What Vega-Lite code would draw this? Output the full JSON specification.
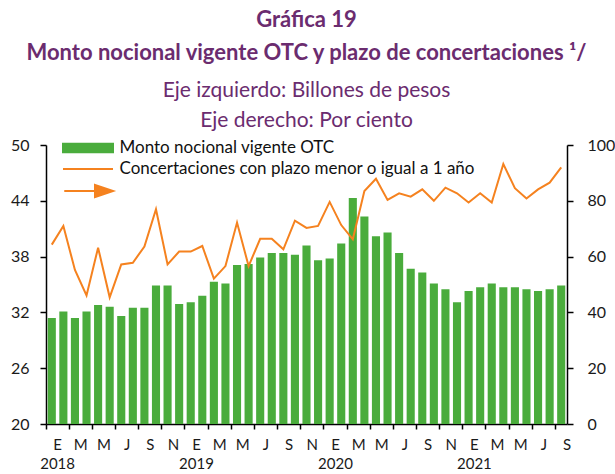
{
  "$schema": "https://vega.github.io/schema/vega-lite/v6.json",
  "width": 521,
  "height": 279,
  "autosize": {"type": "none"},
  "padding": {"left": 46, "top": 145, "right": 48, "bottom": 50},
  "background": "white",
  "config": {"view": {"stroke": null}},
  "title": {
    "text": ["Gráfica 19", "Monto nocional vigente OTC y plazo de concertaciones ¹/"],
    "subtitle": ["Eje izquierdo: Billones de pesos", "Eje derecho: Por ciento"],
    "font": "Lato", "fontSize": 22, "fontWeight": "bold", "color": "#6b2c6f", "lineHeight": 33,
    "subtitleFont": "Lato", "subtitleFontSize": 21, "subtitleColor": "#6b2c6f", "subtitleLineHeight": 30,
    "subtitlePadding": 15, "offset": 5, "anchor": "middle", "frame": "group"
  },
  "data": {"values": [
    {"m": "2018-01", "monto": 31.4, "conc": 64.3},
    {"m": "2018-02", "monto": 32.1, "conc": 71.0},
    {"m": "2018-03", "monto": 31.4, "conc": 55.2},
    {"m": "2018-04", "monto": 32.1, "conc": 46.1},
    {"m": "2018-05", "monto": 32.8, "conc": 63.2},
    {"m": "2018-06", "monto": 32.6, "conc": 45.4},
    {"m": "2018-07", "monto": 31.6, "conc": 57.2},
    {"m": "2018-08", "monto": 32.5, "conc": 57.8},
    {"m": "2018-09", "monto": 32.5, "conc": 63.6},
    {"m": "2018-10", "monto": 34.9, "conc": 77.0},
    {"m": "2018-11", "monto": 34.9, "conc": 57.2},
    {"m": "2018-12", "monto": 32.9, "conc": 61.8},
    {"m": "2019-01", "monto": 33.1, "conc": 61.8},
    {"m": "2019-02", "monto": 33.8, "conc": 63.8},
    {"m": "2019-03", "monto": 35.3, "conc": 52.1},
    {"m": "2019-04", "monto": 35.1, "conc": 56.6},
    {"m": "2019-05", "monto": 37.1, "conc": 72.2},
    {"m": "2019-06", "monto": 37.2, "conc": 56.6},
    {"m": "2019-07", "monto": 37.9, "conc": 66.4},
    {"m": "2019-08", "monto": 38.4, "conc": 66.4},
    {"m": "2019-09", "monto": 38.4, "conc": 62.6},
    {"m": "2019-10", "monto": 38.2, "conc": 72.9},
    {"m": "2019-11", "monto": 39.2, "conc": 70.3},
    {"m": "2019-12", "monto": 37.6, "conc": 71.0},
    {"m": "2020-01", "monto": 37.8, "conc": 79.6},
    {"m": "2020-02", "monto": 39.4, "conc": 71.3},
    {"m": "2020-03", "monto": 44.3, "conc": 66.2},
    {"m": "2020-04", "monto": 42.3, "conc": 83.5},
    {"m": "2020-05", "monto": 40.2, "conc": 87.9},
    {"m": "2020-06", "monto": 40.6, "conc": 80.3},
    {"m": "2020-07", "monto": 38.4, "conc": 82.7},
    {"m": "2020-08", "monto": 36.7, "conc": 81.5},
    {"m": "2020-09", "monto": 36.3, "conc": 84.1},
    {"m": "2020-10", "monto": 35.1, "conc": 80.0},
    {"m": "2020-11", "monto": 34.5, "conc": 84.7},
    {"m": "2020-12", "monto": 33.1, "conc": 82.7},
    {"m": "2021-01", "monto": 34.3, "conc": 79.4},
    {"m": "2021-02", "monto": 34.7, "conc": 82.7},
    {"m": "2021-03", "monto": 35.1, "conc": 79.4},
    {"m": "2021-04", "monto": 34.7, "conc": 93.2},
    {"m": "2021-05", "monto": 34.7, "conc": 84.5},
    {"m": "2021-06", "monto": 34.5, "conc": 80.8},
    {"m": "2021-07", "monto": 34.3, "conc": 84.1},
    {"m": "2021-08", "monto": 34.5, "conc": 86.5},
    {"m": "2021-09", "monto": 34.9, "conc": 92.0}
  ]},
  "encoding": {
    "x": {
      "field": "m", "type": "ordinal",
      "scale": {"paddingInner": 0.3, "paddingOuter": 0.15},
      "axis": {
        "title": null,
        "values": ["2018-01","2018-03","2018-05","2018-07","2018-09","2018-11","2019-01","2019-03","2019-05","2019-07","2019-09","2019-11","2020-01","2020-03","2020-05","2020-07","2020-09","2020-11","2021-01","2021-03","2021-05","2021-07","2021-09"],
        "bandPosition": -0.214,
        "labelOffset": 5.8,
        "labelExpr": "parseInt(substring(datum.value,5,7)) == 1 ? ['E', substring(datum.value,0,4)] : ['E','F','M','A','M','J','J','A','S','O','N','D'][parseInt(substring(datum.value,5,7)) - 1]",
        "labelAngle": 0, "labelOverlap": false, "labelBound": false,
        "labelFont": "Lato", "labelFontSize": 15, "labelColor": "#1a1a1a", "labelLineHeight": 19,
        "labelPadding": 8, "tickSize": 5, "tickColor": "black", "domainColor": "black", "domainWidth": 1.5, "tickWidth": 1.5
      }
    }
  },
  "layer": [
    {
      "mark": {"type": "bar"},
      "encoding": {
        "y": {
          "field": "monto", "type": "quantitative",
          "scale": {"domain": [20, 50], "nice": false, "zero": false},
          "axis": {
            "title": null, "values": [20, 26, 32, 38, 44, 50], "grid": false, "orient": "left",
            "labelFont": "Lato", "labelFontSize": 16, "labelColor": "#1a1a1a", "labelPadding": 11,
            "tickSize": 6, "tickColor": "black", "domainColor": "black", "domainWidth": 1.5, "tickWidth": 1.5
          }
        },
        "y2": {"datum": 20},
        "color": {
          "datum": "Monto nocional vigente OTC",
          "scale": {
            "domain": ["Monto nocional vigente OTC", "Concertaciones con plazo menor o igual a 1 año", " "],
            "range": ["#4aac3c", "#f5821f", "#f5821f"]
          },
          "legend": {
            "title": null, "orient": "none", "legendX": 16, "legendY": -5.5,
            "padding": 0, "rowPadding": 3, "labelOffset": 23, "symbolOffset": 17.5, "labelLimit": 0,
            "labelFont": "Lato", "labelFontSize": 17, "labelColor": "#111111",
            "symbolSize": 100,
            "encode": {
              "symbols": {
                "update": {
                  "shape": {"signal": "datum.index === 0 ? 'M-5,-0.85H5V0.85H-5Z' : datum.index === 1 ? 'M-5,0H5' : 'M-4.75,0H1.75M1.4,-1.2L5,0L1.4,1.2Z'"},
                  "size": {"value": 100},
                  "fill": {"signal": "datum.index === 0 ? '#4aac3c' : datum.index === 2 ? '#f5821f' : 'transparent'"},
                  "stroke": {"signal": "datum.index === 0 ? 'transparent' : '#f5821f'"},
                  "strokeWidth": {"value": 2},
                  "opacity": {"value": 1}
                }
              }
            }
          }
        }
      }
    },
    {
      "mark": {"type": "line", "strokeWidth": 2},
      "encoding": {
        "y": {
          "field": "conc", "type": "quantitative",
          "scale": {"domain": [0, 100], "nice": false},
          "axis": {
            "title": null, "values": [0, 20, 40, 60, 80, 100], "grid": false, "orient": "right",
            "labelFont": "Lato", "labelFontSize": 16, "labelColor": "#1a1a1a", "labelPadding": 14,
            "tickSize": 6, "tickColor": "black", "domainColor": "black", "domainWidth": 1.5, "tickWidth": 1.5
          }
        },
        "color": {"datum": "Concertaciones con plazo menor o igual a 1 año"}
      }
    }
  ],
  "resolve": {"scale": {"y": "independent"}}
}
